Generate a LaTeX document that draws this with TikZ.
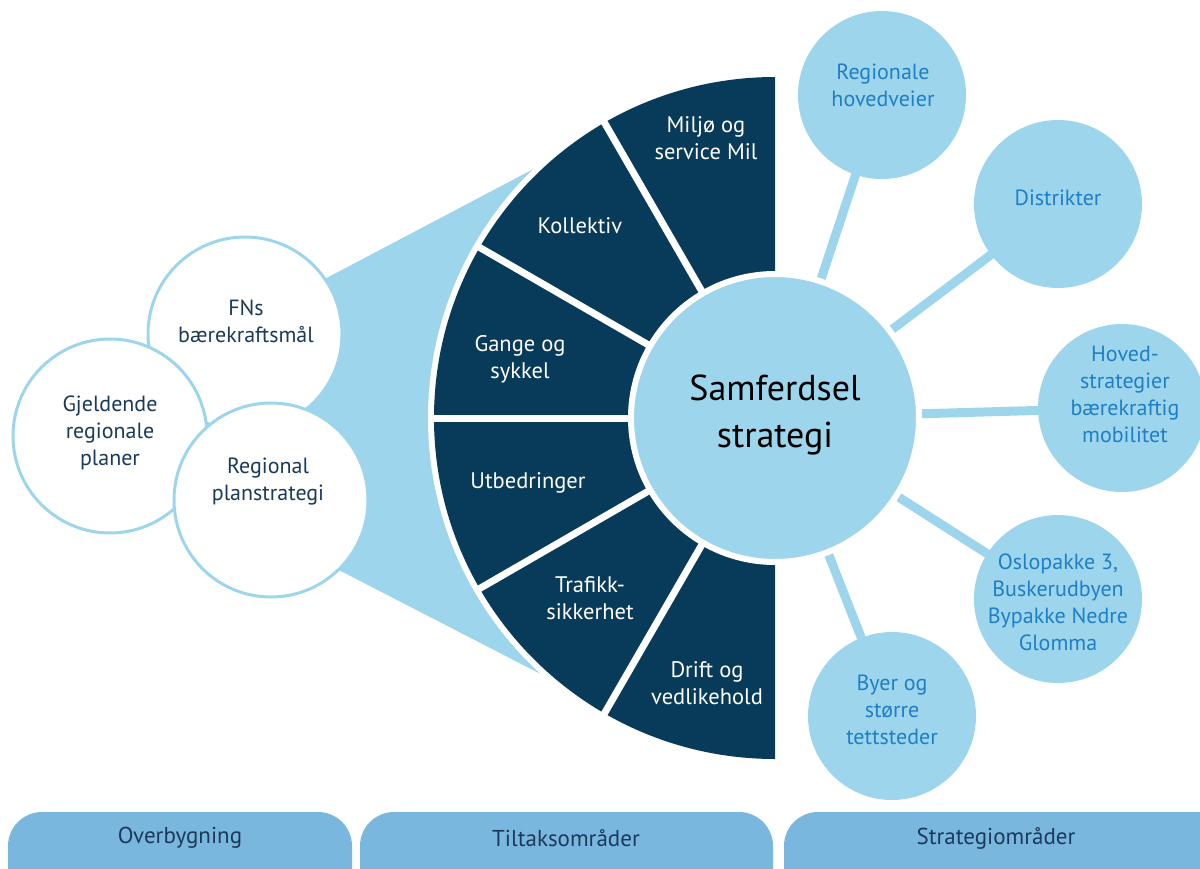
\documentclass[tikz,border=0pt]{standalone}
\usepackage{fontspec}
\setmainfont{PT Sans}
\usetikzlibrary{backgrounds}
\definecolor{navy}{HTML}{083A5A}
\definecolor{lblue}{HTML}{9DD6EC}
\definecolor{tabblue}{HTML}{7AB7DF}
\definecolor{satText}{HTML}{1F7EC4}
\definecolor{leftText}{HTML}{1B3A5B}
\begin{document}
\begin{tikzpicture}[x=1pt,y=-1pt,
  seglabel/.style={text=white, font=\fontsize{22.5}{27}\selectfont, align=center},
  leftcirc/.style={circle, draw=lblue, line width=3pt, fill=white, minimum size=194pt, inner sep=0pt},
  lefttext/.style={text=leftText, font=\fontsize{22}{27}\selectfont, align=center},
  satcirc/.style={circle, fill=lblue, minimum size=168pt, inner sep=0pt},
  sattext/.style={text=satText, font=\fontsize{22}{27}\selectfont, align=center},
  conn/.style={draw=lblue, line width=9pt},
  tabshape/.style={fill=tabblue, rounded corners=34pt},
  tabtext/.style={text=leftText, font=\fontsize{23}{26}\selectfont},
  sep/.style={draw=white, line width=7pt}
]
\useasboundingbox (0,0) rectangle (1200,868);
\clip (0,0) rectangle (1200,868);
\coordinate (C) at (775,418);

% bottom tabs
\path[tabshape] (8,812) rectangle (352,940);
\path[tabshape] (360,812) rectangle (773,940);
\path[tabshape] (784,812) rectangle (1230,940);
\node[tabtext] (t1) at (180,838) {Overbygning};
\node[tabtext] (t2) at (566,838) {Tiltaksområder};
\node[tabtext] (t3) at (996,838) {Strategiområder};

% cone
\fill[lblue] (300,292) -- (560,155) -- (560,684) -- (300,550) -- cycle;

% dark half disc with white halo
\fill[white] (C) -- ++(90:347pt) arc[start angle=90, end angle=270, radius=347pt] -- cycle;
\fill[navy] (C) -- ++(90:341pt) arc[start angle=90, end angle=270, radius=341pt] -- cycle;
\foreach \a in {120,150,180,210,240}{
  \draw[sep] (C) -- ++(\a:343pt);
}

% segment labels
\node[seglabel] (s1) at (706,138) {Miljø og\\service Mil};
\node[seglabel] (s2) at (580,226) {Kollektiv};
\node[seglabel] (s3) at (520,359) {Gange og\\sykkel};
\node[seglabel] (s4) at (528,483) {Utbedringer};
\node[seglabel] (s5) at (590,598) {Trafikk-\\sikkerhet};
\node[seglabel] (s6) at (707,683) {Drift og\\vedlikehold};

% centre circle
\node[circle, fill=lblue, draw=white, line width=6pt, minimum size=288pt, inner sep=0pt] (samf) at (C) {};
\node[text=black, font=\fontsize{36}{47}\selectfont, align=center] (samft) at (775,415) {Samferdsel\\strategi};

% left circles
\node[leftcirc] (fns) at (245,334) {};
\node[leftcirc] (gjel) at (110,436) {};
\node[leftcirc] (rps) at (271,500) {};
\node[lefttext] (fnst) at (246,321) {FNs\\bærekraftsmål};
\node[lefttext] (gjelt) at (110,433) {Gjeldende\\regionale\\planer};
\node[lefttext] (rpst) at (268,482) {Regional\\planstrategi};

% right circles
\node[satcirc] (reg) at (882,95) {};
\node[satcirc] (dis) at (1058,204) {};
\node[satcirc] (hov) at (1122,408) {};
\node[satcirc] (osl) at (1058,599) {};
\node[satcirc] (bye) at (892,716) {};
\node[sattext] (regt) at (883,85) {Regionale\\hovedveier};
\node[sattext] (dist) at (1058,198) {Distrikter};
\node[sattext] (hovt) at (1125,394) {Hoved-\\strategier\\bærekraftig\\mobilitet};
\node[sattext] (oslt) at (1058,602) {Oslopakke 3,\\Buskerudbyen\\Bypakke Nedre\\Glomma};
\node[sattext] (byet) at (892,710) {Byer og\\større\\tettsteder};

% connectors (behind)
\begin{pgfonlayer}{background}
\draw[conn] (samf.center) -- (reg.center);
\draw[conn] (samf.center) -- (dis.center);
\draw[conn] (samf.center) -- (hov.center);
\draw[conn] (samf.center) -- (osl.center);
\draw[conn] (samf.center) -- (bye.center);
\end{pgfonlayer}
\end{tikzpicture}
\end{document}
